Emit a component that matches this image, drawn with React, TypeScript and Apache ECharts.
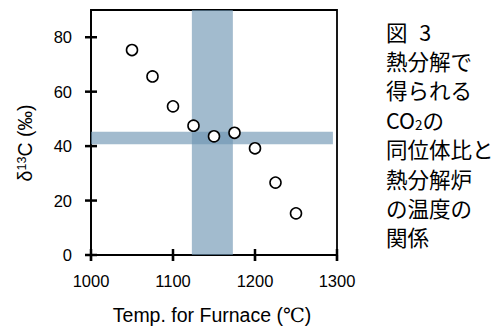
import React, { useEffect, useRef } from "react";
import * as echarts from "echarts";

const tempC = [1050, 1075, 1100, 1125, 1150, 1175, 1200, 1225, 1250];
const delta13C = [75.3, 65.6, 54.6, 47.5, 43.6, 44.9, 39.2, 26.6, 15.3];
const xTickValues = [1000, 1100, 1200, 1300];
const yTickValues = [0, 20, 40, 60, 80];
const tempBand = [1123, 1173];
const deltaBand = [40.7, 45.3];
const deltaBandTempRange = [1000, 1295];
const captionLines = ["図 {n|3}", "熱分解で", "得られる", "CO{sub|2}の", "同位体比と", "熱分解炉", "の温度の", "関係"];

const bandColor = "rgba(110,149,178,0.64)";
const sans = "Liberation Sans, Arial, sans-serif";
const cjk = "Noto Sans CJK JP, sans-serif";
const X_TICK_HALF = 6;
const Y_TICK_HALF = 6;

export default function App() {
  const ref = useRef<HTMLDivElement>(null);
  useEffect(() => {
    if (!ref.current) return;
    const chart = echarts.init(ref.current, undefined, { renderer: "svg" });
    const option: any = {
      animation: false,
      backgroundColor: "#ffffff",
      grid: {
        left: 91,
        right: 163,
        top: 10,
        bottom: 72,
        show: true,
        borderColor: "#000",
        borderWidth: 1.8,
        backgroundColor: "transparent",
      },
      xAxis: {
        type: "value",
        min: 1000,
        max: 1300,
        interval: 100,
        splitLine: { show: false },
        axisLine: { show: true, onZero: false, lineStyle: { color: "#000", width: 1.8 } },
        axisTick: { show: true, inside: false, length: 6, lineStyle: { color: "#000", width: 2.2 } },
        axisLabel: {
          color: "#000",
          fontSize: 16.5,
          fontFamily: sans,
          margin: 17,
          formatter: (v: number) => (xTickValues.includes(v) ? String(v) : ""),
        },
      },
      yAxis: {
        type: "value",
        min: 0,
        max: 90,
        interval: 20,
        splitLine: { show: false },
        axisLine: { show: true, onZero: false, lineStyle: { color: "#000", width: 1.8 } },
        axisTick: { show: false },
        axisLabel: {
          color: "#000",
          fontSize: 16.5,
          fontFamily: sans,
          margin: 19,
          formatter: (v: number) => (yTickValues.includes(v) ? String(v) : ""),
        },
      },
      series: [
        {
          type: "scatter",
          data: [],
          z: 1,
          markArea: {
            silent: true,
            itemStyle: { color: bandColor },
            data: [
              [{ xAxis: tempBand[0] }, { xAxis: tempBand[1] }],
              [
                { coord: [deltaBandTempRange[0], deltaBand[0]] },
                { coord: [deltaBandTempRange[1], deltaBand[1]] },
              ],
            ],
          },
        },
        {
          type: "custom",
          z: 6,
          silent: true,
          clip: false,
          data: xTickValues.map((v) => [v, 0]),
          encode: { x: 0, y: 1 },
          renderItem: (params: any, api: any) => {
            const p = api.coord([api.value(0), api.value(1)]);
            return {
              type: "line",
              shape: { x1: p[0], y1: p[1] - X_TICK_HALF, x2: p[0], y2: p[1] + X_TICK_HALF },
              style: { stroke: "#000", lineWidth: 2.5 },
            };
          },
        },
        {
          type: "custom",
          z: 6,
          silent: true,
          clip: false,
          data: yTickValues.map((v) => [1000, v]),
          encode: { x: 0, y: 1 },
          renderItem: (params: any, api: any) => {
            const p = api.coord([api.value(0), api.value(1)]);
            return {
              type: "line",
              shape: { x1: p[0] - Y_TICK_HALF, y1: p[1], x2: p[0] + Y_TICK_HALF, y2: p[1] },
              style: { stroke: "#000", lineWidth: 2.5 },
            };
          },
        },
        {
          type: "scatter",
          z: 5,
          symbol: "circle",
          symbolSize: 11,
          itemStyle: { color: "#fff", borderColor: "#000", borderWidth: 1.6, opacity: 1 },
          data: tempC.map((t, i) => [t, delta13C[i]]),
        },
      ],
      graphic: [
        {
          type: "text",
          x: 25,
          y: 143,
          rotation: Math.PI / 2,
          style: {
            text: "δ{sup|13}C (‰)",
            fontSize: 19.5,
            fontFamily: sans,
            fill: "#000",
            align: "center",
            verticalAlign: "middle",
            rich: {
              sup: { fontSize: 12.5, fontFamily: sans, verticalAlign: "top", lineHeight: 12, fill: "#000" },
            },
          },
        },
        {
          type: "text",
          x: 212,
          y: 315,
          style: {
            text: "Temp. for Furnace ({c|℃})",
            fontSize: 19.5,
            fontFamily: sans,
            fill: "#000",
            align: "center",
            verticalAlign: "middle",
            rich: {
              c: { fontSize: 19.5, fontFamily: "DejaVu Serif, serif", fill: "#000" },
            },
          },
        },
        ...captionLines.map((line, i) => ({
          type: "text",
          x: 386,
          y: 31 + i * 29.4,
          style: {
            text: line,
            fontSize: 21.5,
            lineHeight: 24,
            fontFamily: cjk,
            fill: "#000",
            align: "left",
            verticalAlign: "middle",
            rich: {
              n: { fontSize: 21.5, fontFamily: cjk, padding: [0, 0, 0, 7], fill: "#000" },
              sub: { fontSize: 13.5, fontFamily: cjk, verticalAlign: "bottom", lineHeight: 12, fill: "#000" },
            },
          },
        })),
      ],
    };
    chart.setOption(option);
    return () => chart.dispose();
  }, []);
  return (
    <div
      ref={ref}
      style={{ position: "fixed", left: 0, top: 0, width: 500, height: 327, background: "#fff" }}
    />
  );
}
